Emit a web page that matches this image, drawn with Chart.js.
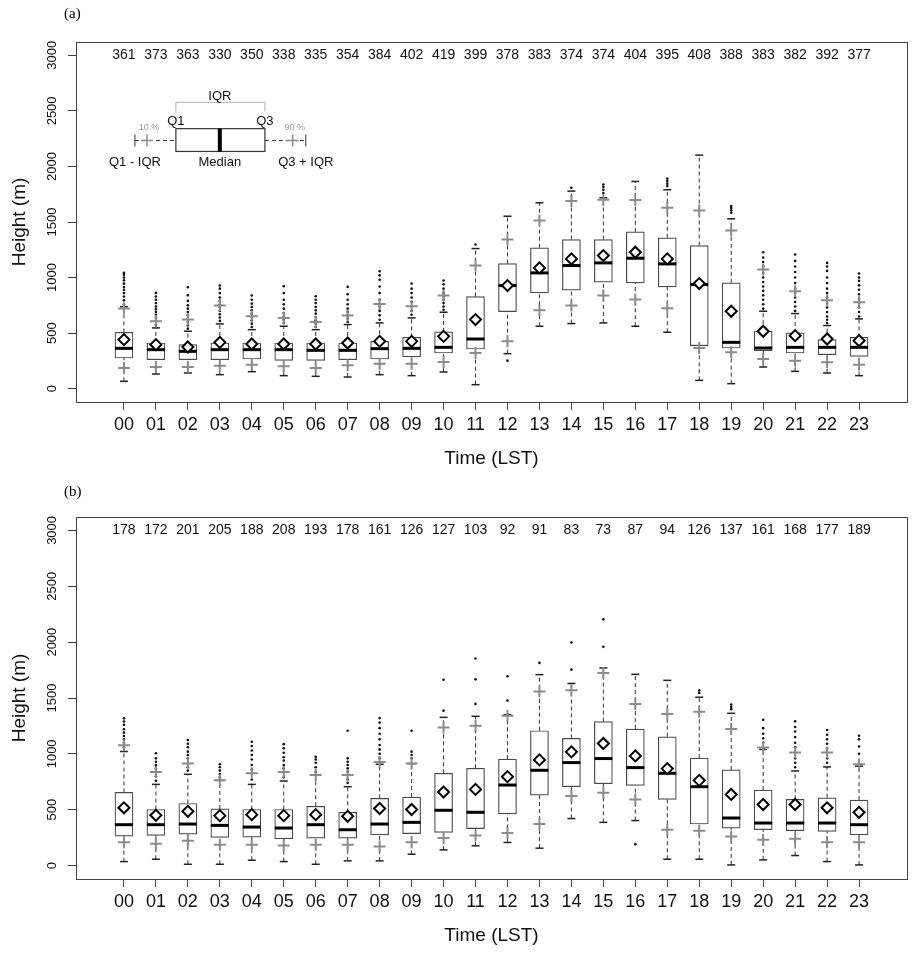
<!DOCTYPE html>
<html>
<head>
<meta charset="utf-8">
<script src="https://cdn.jsdelivr.net/npm/chart.js@4"></script>
<style>
  body { margin: 0; background: #fff; width: 919px; height: 953px; position: relative; overflow: hidden; }
  .panel { position: absolute; left: 0; }
  .tag { position: absolute; font: 15px "Liberation Serif", "DejaVu Serif", serif; color: #000; }
</style>
</head>
<body>
<div class="panel" style="top:0"><canvas id="chartA" width="919" height="476"></canvas></div>
<div class="panel" style="top:476px"><canvas id="chartB" width="919" height="477"></canvas></div>
<div class="tag" style="left:64px;top:5px">(a)</div>
<div class="tag" style="left:64px;top:483px">(b)</div>
<script>
// categorias (hora local) y ticks del eje y
const hours = ['00','01','02','03','04','05','06','07','08','09','10','11',
               '12','13','14','15','16','17','18','19','20','21','22','23'];
const yTicks = [0, 500, 1000, 1500, 2000, 2500, 3000];

// panel (a)
const countsA = [361,373,363,330,350,338,335,354,384,402,419,399,378,383,374,374,404,395,408,388,383,382,392,377];
const q1A   = [276,261,261,261,267,255,255,261,267,286,321,357,694,862,886,958,952,916,387,366,342,321,306,291];
const medA  = [363,351,336,351,351,351,345,345,360,363,372,447,928,1042,1108,1132,1174,1123,937,417,366,372,372,372];
const q3A   = [507,411,396,411,411,411,411,411,426,462,511,829,1126,1268,1342,1342,1411,1358,1288,952,517,502,441,462];
const meanA = [441,396,375,417,402,402,402,411,426,426,471,622,928,1087,1168,1198,1228,1168,946,697,517,477,447,432];
const loA   = [66,132,141,126,153,117,111,105,126,117,150,36,315,562,586,592,562,508,75,45,195,156,141,117];
const hiA   = [738,547,517,583,531,562,531,577,592,637,688,1261,1552,1673,1778,1718,1865,1790,2102,1529,697,676,568,628];
const p10A  = [186,195,195,207,216,201,186,210,225,225,240,321,426,706,748,838,802,724,366,327,267,252,237,216];
const p90A  = [721,606,622,748,652,637,601,658,763,742,838,1108,1342,1514,1690,1700,1697,1628,1604,1423,1072,877,796,778];
const outA = [
  [760,795,830,860,890,915,945,975,1000,1025,1042],
  [575,610,640,665,690,715,740,770,800,830,862],
  [540,570,600,630,660,690,720,750,790,840,913],
  [610,640,670,700,730,760,790,820,860,900,928],
  [555,585,615,645,675,705,735,765,800,838],
  [590,620,650,680,720,760,800,860,922],
  [555,585,615,645,675,705,735,770,800,832],
  [600,630,660,690,720,760,800,850,916],
  [620,660,700,740,800,860,920,980,1020,1057],
  [665,700,740,780,820,860,900,946],
  [710,740,770,800,830,860,900,940,973],
  [1297],
  [252],
  [],
  [1808],
  [1760,1790,1815,1838],
  [],
  [1823,1845,1870,1892],
  [],
  [1583,1605,1625,1643],
  [720,760,800,840,880,920,960,1000,1040,1100,1140,1180,1228],
  [700,740,780,820,860,900,950,1000,1050,1100,1150,1207],
  [590,620,650,690,730,770,820,860,900,950,1000,1060,1100,1132],
  [650,690,730,770,810,850,890,930,970,1000,1036]
];

// panel (b)
const countsB = [178,172,201,205,188,208,193,178,161,126,127,103,92,91,83,73,87,94,126,137,161,168,177,189];
const q1B   = [264,270,282,252,255,240,246,246,276,286,297,331,462,631,706,733,718,592,372,336,321,312,306,276];
const medB  = [366,366,372,360,345,336,366,321,372,387,495,477,721,853,922,958,877,826,706,426,381,381,381,366];
const q3B   = [655,502,556,507,502,502,531,477,601,613,826,871,952,1207,1138,1288,1222,1153,961,856,676,592,607,586];
const meanB = [517,450,486,447,456,447,456,441,511,502,658,682,796,946,1018,1093,982,868,763,637,547,547,517,477];
const loB   = [36,57,12,12,48,36,12,42,42,102,141,177,207,156,421,387,403,57,57,6,51,90,36,6];
const hiB   = [1021,727,817,763,727,757,811,706,907,913,1327,1336,1351,1709,1630,1769,1712,1658,1507,1363,1040,847,883,890];
const p10B  = [210,195,222,186,186,180,186,186,171,210,246,270,291,372,622,652,592,321,312,261,231,240,210,210];
const p90B  = [1078,838,913,763,826,838,811,811,928,913,1237,1252,1342,1559,1570,1724,1447,1357,1378,1222,1057,1012,1012,907];
const outB = [
  [1060,1100,1130,1160,1190,1220,1260,1290,1318],
  [760,800,840,870,900,930,960,1006],
  [850,880,960,990,1020,1060,1090,1123],
  [790,820,850,880,907],
  [770,860,900,950,990,1030,1070,1108],
  [790,870,900,940,970,1010,1050,1087],
  [840,880,920,950,973],
  [740,770,840,870,900,930,960,1207],
  [960,1000,1040,1080,1130,1180,1230,1280,1321],
  [960,990,1020,1207],
  [1387,1664],
  [1447,1667,1853],
  [1477,1694],
  [1814],
  [1754,1997],
  [1958,2204],
  [192],
  [],
  [1545,1568],
  [1400,1420,1441],
  [1100,1140,1180,1230,1306],
  [880,920,960,1060,1100,1150,1200,1240,1291],
  [920,960,1050,1090,1130,1170,1213],
  [1000,1066,1130,1162]
];

// leyenda del panel (a), en unidades de los ejes
const key = { x0: 1.625, x1: 4.41, yb: 2135, yt: 2340, med: 3.0, wy: 2234,
              wlo: 0.344, whi: 5.69, p10: 0.72, p90: 5.28, iqrY: 2577, iqrTick: 2495 };

const SANS = '"Liberation Sans", Arial, sans-serif';

function boxDatasets(q1, med, q3, mean, lo, hi, p10, p90, out) {
  const whisk = [];
  hours.forEach((h, i) => {
    whisk.push({x: i, y: lo[i]}, {x: i, y: q1[i]}, {x: i, y: null},
               {x: i, y: q3[i]}, {x: i, y: hi[i]}, {x: i, y: null});
  });
  const pts = arr => arr.map((v, i) => ({x: i, y: v}));
  return [
    { type: 'line', data: whisk, borderColor: '#333', borderWidth: 1, borderDash: [4, 3],
      pointRadius: 0, spanGaps: false, fill: false, order: 6 },
    { type: 'bar', data: hours.map((h, i) => ({x: i, y: [q1[i], q3[i]]})),
      backgroundColor: '#fff', borderColor: '#4a4a4a', borderWidth: 1.2, borderSkipped: false,
      barThickness: 18, order: 5 },
    { type: 'scatter', data: pts(lo).concat(pts(hi)), pointStyle: 'line', pointRadius: 4,
      borderColor: '#222', borderWidth: 1.5, order: 4 },
    { type: 'scatter', data: pts(p10).concat(pts(p90)), pointStyle: 'cross', pointRadius: 6,
      borderColor: '#8c8c8c', borderWidth: 2, order: 3 },
    { type: 'scatter', data: out.flatMap((a, i) => a.map(v => ({x: i, y: v}))), pointStyle: 'circle',
      pointRadius: 1.3, backgroundColor: '#111', borderWidth: 0, order: 3 },
    { type: 'scatter', data: pts(med), pointStyle: 'line', pointRadius: 9,
      borderColor: '#000', borderWidth: 3, order: 2 },
    { type: 'scatter', data: pts(mean), pointStyle: 'rectRot', pointRadius: 5.5,
      backgroundColor: '#fff', borderColor: '#000', borderWidth: 2, order: 1 }
  ];
}

function drawKey(ctx, x, y, k) {
  const X = v => x.getPixelForValue(v), Y = v => y.getPixelForValue(v);
  ctx.strokeStyle = '#b0b0b0'; ctx.lineWidth = 1;
  ctx.beginPath();
  ctx.moveTo(X(k.x0), Y(k.iqrTick)); ctx.lineTo(X(k.x0), Y(k.iqrY));
  ctx.lineTo(X(k.x1), Y(k.iqrY)); ctx.lineTo(X(k.x1), Y(k.iqrTick));
  ctx.stroke();
  ctx.strokeStyle = '#333'; ctx.setLineDash([4, 3]);
  ctx.beginPath();
  ctx.moveTo(X(k.wlo), Y(k.wy)); ctx.lineTo(X(k.x0), Y(k.wy));
  ctx.moveTo(X(k.x1), Y(k.wy)); ctx.lineTo(X(k.whi), Y(k.wy));
  ctx.stroke();
  ctx.setLineDash([]);
  ctx.beginPath();
  [k.wlo, k.whi].forEach(v => { ctx.moveTo(X(v), Y(k.wy) - 6); ctx.lineTo(X(v), Y(k.wy) + 6); });
  ctx.stroke();
  ctx.fillStyle = '#fff'; ctx.strokeStyle = '#333'; ctx.lineWidth = 1.2;
  ctx.fillRect(X(k.x0), Y(k.yt), X(k.x1) - X(k.x0), Y(k.yb) - Y(k.yt));
  ctx.strokeRect(X(k.x0), Y(k.yt), X(k.x1) - X(k.x0), Y(k.yb) - Y(k.yt));
  ctx.strokeStyle = '#000'; ctx.lineWidth = 4;
  ctx.beginPath(); ctx.moveTo(X(k.med), Y(k.yt)); ctx.lineTo(X(k.med), Y(k.yb)); ctx.stroke();
  ctx.strokeStyle = '#8c8c8c'; ctx.lineWidth = 1.5;
  ctx.beginPath();
  [k.p10, k.p90].forEach(v => {
    ctx.moveTo(X(v) - 6, Y(k.wy)); ctx.lineTo(X(v) + 6, Y(k.wy));
    ctx.moveTo(X(v), Y(k.wy) - 6); ctx.lineTo(X(v), Y(k.wy) + 6);
  });
  ctx.stroke();
  ctx.textAlign = 'center'; ctx.textBaseline = 'middle';
  ctx.fillStyle = '#111'; ctx.font = '13px ' + SANS;
  ctx.fillText('IQR', X(k.med), Y(2626));
  ctx.fillText('Q1', X(k.x0), Y(2401));
  ctx.fillText('Q3', X(k.x1), Y(2401));
  ctx.fillText('Q1 - IQR', X(k.wlo), Y(2036));
  ctx.fillText('Median', X(k.med), Y(2036));
  ctx.fillText('Q3 + IQR', X(k.whi), Y(2036));
  ctx.fillStyle = '#999'; ctx.font = '9px ' + SANS;
  ctx.fillText('10 %', X(k.p10) + 2, Y(2351));
  ctx.fillText('90 %', X(k.p90) + 2, Y(2351));
}

const framePlugin = {
  id: 'frame',
  afterDraw(chart, args, opts) {
    const {ctx, chartArea: a, scales: {x, y}} = chart;
    ctx.save();
    ctx.strokeStyle = '#444'; ctx.lineWidth = 1;
    ctx.strokeRect(a.left + 0.5, a.top + 0.5, a.right - a.left, a.bottom - a.top);
    ctx.font = '14px ' + SANS; ctx.fillStyle = '#111';
    ctx.textAlign = 'center'; ctx.textBaseline = 'middle';
    opts.counts.forEach((c, i) => ctx.fillText(String(c), x.getPixelForValue(i), y.getPixelForValue(3000)));
    if (opts.key) drawKey(ctx, x, y, opts.key);
    ctx.restore();
  }
};

function makeChart(id, sets, counts, withKey, top) {
  return new Chart(document.getElementById(id), {
    type: 'bar',
    data: { datasets: sets },
    plugins: [framePlugin],
    options: {
      responsive: false,
      animation: false,
      layout: { padding: { top: top, right: 12, left: 0, bottom: 0 } },
      plugins: {
        legend: { display: false },
        tooltip: { enabled: false },
        frame: { counts: counts, key: withKey ? key : null }
      },
      scales: {
        x: {
          type: 'linear', min: -1.5, max: 24.5, offset: false,
          afterBuildTicks: s => { s.ticks = hours.map((h, i) => ({value: i})); },
          afterFit: s => { s.height = 74; },
          grid: { display: true, drawOnChartArea: false, tickLength: 8, color: '#444', offset: false },
          border: { display: false },
          ticks: { autoSkip: false, minRotation: 0, maxRotation: 0, padding: 4, color: '#111',
                   font: { family: SANS, size: 18 }, callback: v => hours[v] },
          title: { display: true, text: 'Time (LST)', color: '#111',
                   font: { family: SANS, size: 19 }, padding: { top: 0, bottom: 6 } }
        },
        y: {
          type: 'linear', min: -120, max: 3120,
          afterBuildTicks: s => { s.ticks = yTicks.map(v => ({value: v})); },
          afterFit: s => { s.width = 76; },
          grid: { display: true, drawOnChartArea: false, tickLength: 8, color: '#444' },
          border: { display: false },
          ticks: { minRotation: 90, maxRotation: 90, crossAlign: 'center', padding: 1, color: '#111',
                   font: { family: SANS, size: 13 }, callback: v => String(v) },
          title: { display: true, text: 'Height (m)', color: '#111',
                   font: { family: SANS, size: 19 }, padding: { top: 8, bottom: 0 } }
        }
      }
    }
  });
}

makeChart('chartA', boxDatasets(q1A, medA, q3A, meanA, loA, hiA, p10A, p90A, outA), countsA, true, 42);
makeChart('chartB', boxDatasets(q1B, medB, q3B, meanB, loB, hiB, p10B, p90B, outB), countsB, false, 41);
</script>
</body>
</html>
